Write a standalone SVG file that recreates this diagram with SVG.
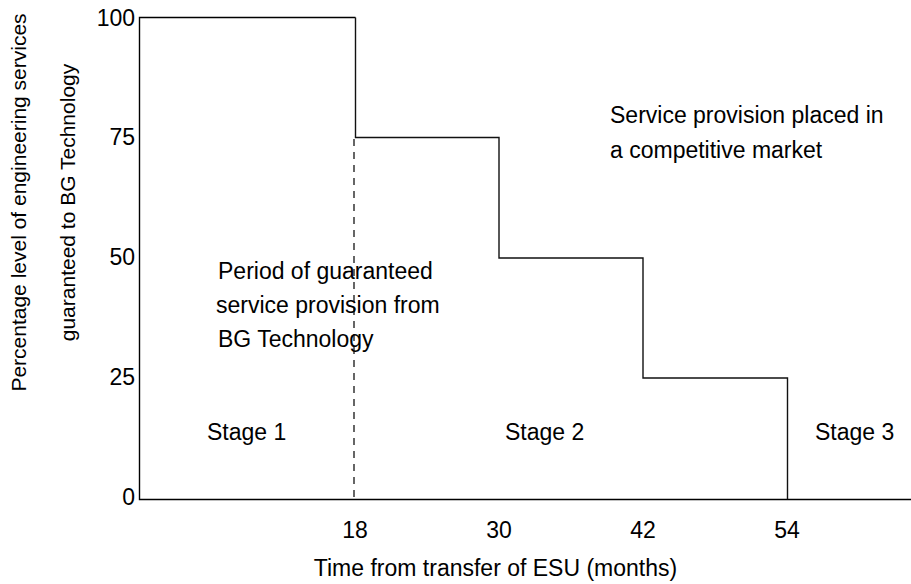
<svg xmlns="http://www.w3.org/2000/svg" width="911" height="584" viewBox="0 0 911 584">
<style>
text{font-family:"Liberation Sans",Arial,sans-serif;font-size:23px;fill:#000}
.yt{font-size:21px}
.ax{fill:none;stroke:#000;stroke-width:1.4}
.st{fill:none;stroke:#111;stroke-width:1.4}
.dash{fill:none;stroke:#000;stroke-width:1.2;stroke-dasharray:7 6}
</style>
<rect width="911" height="584" fill="#fff"/>
<g id="axes">
<path class="ax" d="M355.5,17.5 H139.5 V499.5 H911"/>
</g>
<g id="step">
<path class="st" d="M355.5,17.5 V137.5 H499 V258 H643 V378 H787.5 V499.5"/>
<path class="dash" d="M354,139 V499"/>
</g>
<g id="ylabels" text-anchor="end">
<text x="135" y="26">100</text>
<text x="135" y="145">75</text>
<text x="135" y="265">50</text>
<text x="135" y="385">25</text>
<text x="135" y="505">0</text>
</g>
<g id="xlabels" text-anchor="middle">
<text x="355" y="538">18</text>
<text x="499" y="538">30</text>
<text x="643" y="538">42</text>
<text x="787" y="538">54</text>
<text x="495.5" y="576">Time from transfer of ESU (months)</text>
</g>
<g id="ytitle" text-anchor="middle">
<text class="yt" transform="translate(26,202.5) rotate(-90)">Percentage level of engineering services</text>
<text class="yt" transform="translate(75,202.5) rotate(-90)">guaranteed to BG Technology</text>
</g>
<g id="annotations">
<text x="218" y="279">Period of guaranteed</text>
<text x="216" y="313">service provision from</text>
<text x="218" y="347">BG Technology</text>
<text x="610" y="123">Service provision placed in</text>
<text x="610" y="158">a competitive market</text>
</g>
<g id="stages">
<text x="207" y="440">Stage 1</text>
<text x="505" y="440">Stage 2</text>
<text x="815" y="440">Stage 3</text>
</g>
</svg>
